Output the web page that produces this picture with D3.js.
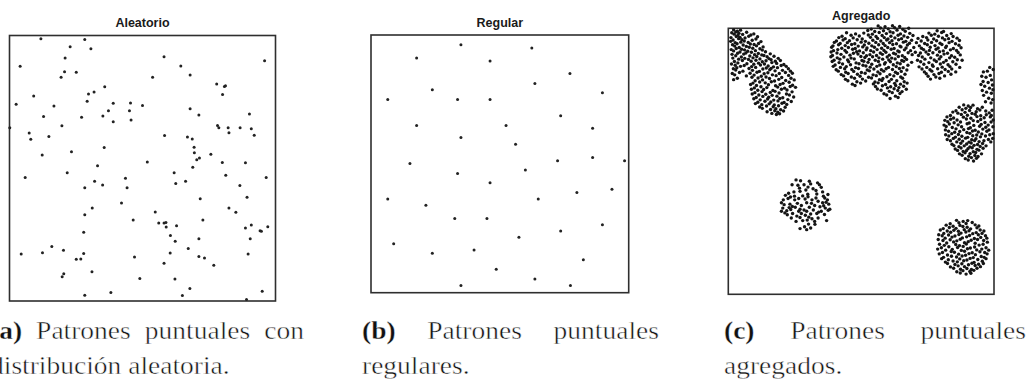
<!DOCTYPE html>
<html>
<head>
<meta charset="utf-8">
<script src="https://cdn.jsdelivr.net/npm/d3@7"></script>
<style>
  html, body { margin: 0; padding: 0; background: #fff; }
  svg { display: block; }
  .cap { font-family: "Liberation Serif", "Times New Roman", Times, serif; }
</style>
</head>
<body>
<svg id="fig" width="1027" height="385"></svg>
<script>
// Panel titles
const titles = ["Aleatorio", "Regular", "Agregado"];

// Observation window shared by the three patterns
const windowX = [0, 100];
const windowY = [0, 100];

// (a) Completely random pattern
const aleatorio = [
  [11.8,98.8],[28.3,98.5],[22.8,95.8],[30.6,95.0],[20.9,91.5],[58.1,92.0],[4.0,88.4],[64.4,88.5],[20.7,86.3],[25.1,86.2],
  [19.4,84.3],[67.9,85.1],[53.8,84.3],[95.9,90.5],[77.9,81.7],[80.8,80.8],[81.2,81.1],[80.1,77.8],[35.8,80.7],[31.8,78.7],
  [29.7,78.0],[9.1,77.2],[29.2,75.2],[2.5,74.1],[16.7,73.4],[39.0,74.5],[45.5,74.6],[50.0,73.6],[37.2,71.7],[45.1,71.7],
  [67.9,72.4],[12.8,69.5],[27.1,69.2],[35.1,69.7],[71.2,70.1],[90.2,70.4],[39.0,67.5],[45.7,68.2],[19.7,66.0],[0.1,65.3],
  [78.2,66.1],[78.7,65.3],[82.2,65.3],[86.7,65.3],[90.9,64.9],[7.4,63.3],[82.5,63.4],[14.8,62.0],[8.0,60.9],[92.0,62.4],
  [58.3,62.3],[66.9,61.8],[68.7,61.0],[35.6,57.8],[69.4,57.9],[23.3,56.2],[69.5,55.8],[12.3,55.0],[75.7,55.3],[71.4,53.9],
  [70.4,53.2],[51.8,52.4],[80.0,52.2],[88.7,52.1],[33.1,50.9],[68.9,50.4],[21.7,48.3],[61.9,48.3],[81.3,47.4],[5.9,46.5],
  [43.6,46.2],[96.5,46.5],[32.0,45.1],[62.5,44.3],[66.2,45.1],[35.0,43.7],[44.2,42.7],[28.3,42.7],[86.6,43.5],[71.7,38.5],
  [89.3,39.1],[42.1,36.9],[31.1,35.0],[82.5,35.0],[85.1,33.4],[54.8,33.5],[28.3,32.5],[46.5,30.5],[72.7,30.5],[56.1,29.4],
  [58.1,29.4],[58.8,29.6],[58.9,27.9],[62.8,28.3],[88.7,27.5],[90.9,28.6],[94.2,26.5],[94.7,26.3],[97.1,28.0],[27.9,25.9],
  [60.5,24.7],[71.2,23.4],[90.5,23.4],[62.3,22.5],[15.9,20.5],[20.3,19.1],[4.4,17.7],[12.4,18.2],[27.9,17.9],[67.2,19.8],
  [60.4,18.1],[89.7,17.7],[25.1,15.7],[26.8,15.8],[47.0,16.6],[71.2,16.8],[73.3,16.2],[58.1,14.2],[76.8,13.5],[31.0,11.0],
  [20.4,10.3],[19.8,9.1],[49.0,8.5],[62.2,8.3],[28.3,2.2],[38.1,3.2],[67.8,4.7],[65.0,2.1],[95.0,3.7],[89.1,0.6]
];

// (b) Regular (inhibition) pattern
const regular = [
  [34.9,96.2],[62.4,95.0],[17.7,91.1],[46.2,89.9],[77.2,85.1],[63.6,81.2],[23.8,78.8],[89.8,77.6],[6.5,75.0],[33.6,75.0],
  [46.2,75.0],[73.6,68.7],[17.7,64.9],[52.4,64.9],[86.0,63.8],[34.9,60.2],[56.1,57.6],[15.1,50.1],[72.4,51.2],[86.0,52.5],
  [98.4,51.2],[33.6,46.3],[59.9,47.6],[46.2,42.7],[79.9,38.9],[93.5,40.1],[6.5,36.4],[64.9,36.4],[21.3,33.9],[32.5,28.8],
  [45.0,28.8],[73.6,23.9],[89.8,26.4],[57.4,21.5],[8.8,19.0],[23.8,15.3],[40.0,16.6],[82.4,12.8],[48.6,9.1],[63.6,5.3],
  [34.9,2.8],[77.4,2.8]
];

// (c) Clustered pattern, one array per cluster
const clusterTopLeft = [
  [2.0,99.4],[3.4,98.9],[4.6,99.3],
  [1.3,98.3],[2.8,98.6],[4.0,98.1],[6.9,98.5],
  [2.2,97.8],[3.6,97.3],[5.4,97.7],[8.5,97.5],[9.6,97.9],
  [1.0,96.5],[3.0,96.9],[4.4,96.6],[6.3,96.4],[7.7,97.0],[11.0,96.8],
  [1.8,95.6],[3.9,96.1],[5.1,95.7],[9.0,95.5],[10.4,96.0],
  [0.9,95.1],[2.6,94.6],[4.7,94.8],[6.0,95.2],[7.5,94.7],[12.3,95.0],
  [1.6,93.8],[3.3,94.2],[5.6,93.7],[8.3,94.1],[9.7,93.9],[11.4,94.3],
  [2.4,93.3],[4.1,92.8],[6.8,93.2],[7.9,92.9],[10.6,93.4],[13.1,93.0],
  [1.1,92.0],[3.0,92.4],[5.0,92.1],[6.1,91.9],[9.2,92.5],[11.9,92.3],[12.8,91.8],
  [2.0,91.5],[4.4,91.1],[7.3,91.4],[8.7,91.0],[10.2,91.6],[14.0,91.2],
  [1.4,90.2],[3.5,90.6],[5.8,90.3],[6.6,90.7],[9.9,90.1],[11.3,90.5],[12.6,90.0],[15.8,90.4],
  [2.8,89.7],[4.9,89.2],[8.1,89.6],[10.7,89.4],[13.4,89.8],[14.6,89.3],[17.2,89.5],
  [1.7,88.8],[3.9,88.4],[6.2,88.7],[7.6,88.3],[9.3,88.9],[11.9,88.5],[15.3,88.6],[16.1,88.2],[18.8,88.7],
  [2.3,87.5],[5.3,87.9],[8.6,87.6],[10.4,88.0],[12.8,87.4],[14.2,87.8],[17.7,87.6],[19.6,87.9],
  [1.2,86.6],[3.6,87.0],[7.0,86.7],[9.6,86.5],[11.4,86.9],[13.6,86.6],[16.4,87.1],[18.2,86.8],[20.9,86.4],
  [2.6,86.1],[4.6,85.7],[6.0,86.0],[8.8,85.6],[12.1,86.2],[15.0,85.8],[17.0,85.5],[19.9,86.0],[21.8,85.7],
  [1.9,84.8],[3.2,85.2],[7.8,84.9],[10.3,85.3],[13.0,84.7],[14.3,85.1],[16.1,84.9],[18.5,85.2],[22.6,84.8],
  [2.8,84.3],[5.5,83.9],[9.1,84.2],[11.7,83.8],[15.6,84.4],[17.6,84.0],[20.4,84.2],[23.4,83.9],
  [1.5,83.0],[4.2,83.4],[8.2,83.1],[10.8,83.5],[13.5,82.9],[14.9,83.3],[19.2,83.0],[21.5,83.4],[24.1,83.1],
  [2.4,82.5],[6.8,82.1],[9.7,82.4],[12.4,82.0],[16.6,82.5],[18.0,82.2],[22.7,82.3],
  [3.4,81.2],[8.9,81.6],[11.2,81.3],[14.2,81.7],[15.5,81.1],[20.1,81.5],[23.6,81.2],
  [2.0,80.7],[10.1,80.3],[12.9,80.6],[17.4,80.2],[19.0,80.8],[21.6,80.4],[24.8,80.6],
  [9.3,79.4],[11.8,79.8],[13.9,79.5],[16.2,79.9],[20.6,79.3],[22.9,79.7],
  [8.4,78.9],[10.6,78.5],[15.1,78.8],[17.8,78.4],[19.5,78.9],[24.2,78.6],
  [9.8,77.6],[12.3,78.0],[14.5,77.7],[18.6,77.9],[21.2,77.5],[23.3,78.1],[25.3,77.8],
  [8.7,77.1],[11.1,76.7],[13.3,77.0],[16.8,76.6],[20.0,77.1],[22.1,76.8],
  [10.0,75.8],[12.7,76.2],[15.8,75.9],[17.6,76.3],[19.1,75.7],[24.0,76.1],
  [9.0,75.3],[11.5,74.9],[14.1,75.2],[16.5,74.8],[21.9,75.3],[23.0,74.9],
  [10.5,74.0],[13.0,74.4],[15.2,74.1],[18.3,74.5],[20.5,73.9],[24.6,74.2],
  [9.6,73.5],[12.0,73.1],[14.8,73.4],[17.1,73.0],[19.4,73.6],[22.4,73.2],
  [11.1,72.2],[13.8,72.6],[16.0,72.3],[18.7,72.7],[21.0,72.1],[23.7,72.5],
  [10.2,71.7],[12.6,71.3],[15.4,71.6],[17.3,71.2],[20.2,71.8],[22.0,71.4],
  [11.8,70.4],[14.4,70.8],[16.9,70.5],[18.9,70.9],[21.4,70.3],
  [12.8,69.9],[15.9,69.5],[17.9,69.8],[19.7,69.4],
  [14.6,68.6],[17.5,69.0],[18.6,68.5],[20.8,68.9],
  [16.4,68.0],[18.1,67.6],[19.3,67.9]
];

const clusterTop = [
  [56.4,100.9],[59.0,100.6],[61.8,101.0],[64.5,100.7],
  [53.8,99.7],[57.3,100.1],[60.2,99.8],[62.6,100.2],[65.7,99.6],[67.9,100.0],
  [52.5,99.2],[55.1,98.8],[58.4,99.1],[60.9,98.7],[63.5,99.3],[66.6,98.9],[78.6,99.1],[81.0,98.8],
  [44.5,98.3],[47.9,97.9],[51.0,98.2],[54.2,97.8],[56.8,98.4],[59.5,98.0],[62.0,98.3],[64.8,97.9],[68.3,98.1],[75.5,98.2],[77.7,97.8],[80.3,98.4],[83.9,98.0],
  [42.8,97.0],[46.2,97.4],[49.3,97.1],[52.7,97.5],[55.6,96.9],[57.9,97.3],[61.2,97.0],[63.9,97.4],[66.1,97.1],[69.5,97.3],[73.2,96.9],[76.4,97.4],[79.1,97.0],[82.2,97.3],[84.6,96.9],
  [41.6,96.5],[44.0,96.1],[47.0,96.4],[50.4,96.0],[53.5,96.6],[56.2,96.2],[58.7,96.5],[60.1,96.0],[62.7,96.4],[65.2,96.1],[67.5,96.6],[71.4,96.2],[74.6,96.5],[77.3,96.0],[80.6,96.4],[82.9,96.1],[86.1,96.3],
  [40.7,95.2],[43.2,95.6],[45.6,95.3],[48.5,95.7],[51.6,95.1],[54.4,95.5],[57.4,95.2],[59.6,95.6],[61.6,95.3],[64.1,95.7],[66.8,95.1],[69.0,95.5],[72.6,95.2],[75.1,95.6],[78.4,95.3],[81.5,95.7],[84.2,95.1],[87.0,95.4],
  [39.9,94.7],[42.1,94.3],[44.8,94.6],[47.6,94.2],[50.0,94.8],[52.9,94.4],[55.5,94.7],[58.3,94.3],[60.7,94.6],[63.3,94.2],[65.9,94.8],[68.2,94.4],[70.8,94.6],[73.9,94.3],[76.5,94.7],[79.7,94.4],[83.1,94.6],[85.5,94.2],
  [39.4,93.4],[41.5,93.8],[44.0,93.5],[46.4,93.9],[48.9,93.3],[51.2,93.7],[54.0,93.4],[56.6,93.8],[59.0,93.5],[61.9,93.9],[64.6,93.3],[67.4,93.7],[71.9,93.4],[74.9,93.8],[77.8,93.5],[80.4,93.9],[82.1,93.3],[86.8,93.6],
  [38.9,92.9],[42.7,92.5],[45.2,92.8],[47.8,92.4],[50.6,93.0],[52.2,92.6],[55.0,92.9],[57.7,92.5],[60.0,92.8],[62.4,92.4],[65.0,93.0],[66.9,92.6],[69.8,92.8],[72.7,92.5],[76.0,92.9],[79.0,92.6],[81.8,92.8],[84.7,92.4],[87.6,92.7],
  [39.6,91.6],[41.2,92.0],[43.9,91.7],[46.8,92.1],[49.4,91.5],[51.9,91.9],[53.6,91.6],[56.0,92.0],[58.6,91.7],[61.3,92.1],[63.8,91.5],[66.3,91.9],[68.6,91.6],[73.5,92.0],[75.7,91.7],[78.2,92.1],[80.9,91.5],[83.6,91.9],[85.9,91.7],
  [38.7,91.1],[40.9,90.7],[44.5,91.0],[47.1,90.6],[48.3,91.2],[50.8,90.8],[54.7,91.1],[57.2,90.7],[59.3,91.0],[62.2,90.6],[64.3,91.2],[67.7,90.8],[70.4,91.0],[72.3,90.7],[74.4,91.1],[77.0,90.8],[79.5,91.2],[82.5,90.6],[86.5,90.9],
  [39.2,89.8],[42.4,90.2],[45.8,89.9],[48.8,90.3],[52.0,89.7],[53.3,90.1],[55.8,89.8],[58.0,90.2],[60.6,89.9],[63.0,90.3],[65.5,89.7],[69.2,90.1],[71.6,89.8],[75.3,90.2],[78.7,89.9],[81.2,90.3],[84.0,89.7],[87.3,90.0],
  [38.6,89.3],[41.0,88.9],[43.5,89.2],[46.2,88.8],[49.9,89.4],[51.4,89.0],[54.3,89.3],[56.7,88.9],[59.8,89.2],[61.5,88.8],[64.0,89.4],[66.4,89.0],[73.0,89.2],[76.2,88.9],[80.0,89.3],[83.3,88.9],[85.2,89.1],
  [39.8,88.0],[42.0,88.4],[44.9,88.1],[47.4,88.5],[50.3,87.9],[53.0,88.3],[55.3,88.0],[58.1,88.4],[60.4,88.1],[62.8,88.5],[65.3,87.9],[67.1,88.3],[71.2,88.0],[74.0,88.4],[77.5,88.1],[79.4,88.5],[82.0,87.9],[86.2,88.2],[88.0,88.0],
  [39.1,87.5],[41.7,87.1],[45.3,87.4],[48.1,87.0],[51.0,87.6],[52.6,87.2],[56.5,87.5],[59.1,87.1],[61.0,87.4],[63.6,87.0],[66.0,87.6],[69.0,87.2],[72.4,87.4],[75.5,87.1],[78.3,87.5],[81.0,87.2],[84.5,87.4],
  [40.2,86.2],[43.0,86.6],[46.0,86.3],[49.2,86.7],[50.7,86.1],[54.0,86.5],[57.0,86.2],[58.8,86.6],[62.1,86.3],[64.7,86.7],[67.6,86.1],[73.6,86.5],[76.8,86.2],[79.8,86.6],[82.7,86.3],[85.7,86.5],
  [39.5,85.7],[42.2,85.3],[44.4,85.6],[47.9,85.2],[51.8,85.8],[53.4,85.4],[55.9,85.7],[60.3,85.3],[63.2,85.6],[65.8,85.2],[71.8,85.5],[74.7,85.3],[77.1,85.7],[80.5,85.4],[83.4,85.6],[87.1,85.3],
  [40.6,84.4],[43.8,84.8],[46.5,84.5],[49.0,84.9],[52.3,84.3],[54.8,84.7],[57.6,84.4],[59.4,84.8],[61.8,84.5],[64.4,84.9],[67.2,84.3],[72.9,84.7],[75.9,84.4],[78.8,84.8],[81.6,84.5],[84.1,84.7],
  [41.4,83.9],[44.2,83.5],[47.2,83.8],[50.1,83.4],[53.1,84.0],[56.3,83.6],[58.5,83.9],[62.9,83.5],[65.1,83.8],[73.8,83.6],[76.6,83.9],[80.2,83.5],[82.8,83.8],[85.6,83.6],
  [42.5,82.6],[45.1,83.0],[48.6,82.7],[51.5,83.1],[54.5,82.5],[57.1,82.9],[60.8,82.6],[63.7,83.0],[66.5,82.7],[74.5,82.9],[77.4,82.6],[79.3,83.0],[83.8,82.7],
  [43.4,82.1],[46.3,81.7],[49.6,82.0],[52.8,81.6],[55.7,82.2],[59.7,81.8],[62.3,82.1],[64.9,81.7],[75.2,82.0],[78.1,81.7],[81.4,82.1],
  [44.1,80.8],[47.5,81.2],[50.5,80.9],[53.9,81.3],[56.9,80.7],[58.2,81.1],[61.4,80.8],[65.6,81.2],[76.1,80.9],[79.6,81.2],
  [45.0,80.3],[48.4,79.9],[51.7,80.2],[55.2,79.8],[57.8,80.4],[60.5,80.0],[63.4,80.3],[66.2,79.9],
  [46.7,79.0],[49.8,79.4],[54.6,79.1],[56.4,79.5],[59.2,78.9],[62.6,79.3],[64.8,79.0],[67.3,79.4],
  [47.7,78.5],[55.4,78.1],[58.0,78.4],[61.1,78.0],[63.0,78.5],[66.0,78.2],
  [56.1,77.2],[59.9,77.6],[62.4,77.3],[64.2,77.7],[67.0,77.1],
  [57.5,76.7],[60.6,76.3],[63.8,76.6],[65.4,76.2],
  [58.6,75.4],[61.7,75.8],[64.6,75.5],
  [59.6,74.9],[62.9,74.5],
  [60.9,73.6],[63.9,74.0]
];

const clusterRightEdge = [
  [96.0,83.6],[97.5,83.9],[95.4,82.0],[97.0,81.6],[98.6,82.3],[95.9,80.0],[97.8,79.6],[99.1,80.6],[96.5,78.2],[98.3,77.5],
  [99.4,78.7],[95.6,76.6],[97.2,76.0],[99.0,75.6],[96.1,74.8],[98.0,73.7],[99.5,73.2],[96.8,72.4],[98.9,71.9],[99.6,76.9],
  [95.1,78.9],[99.7,84.5],[98.4,85.3]
];

const clusterRight = [
  [88.6,71.2],[90.3,70.8],[92.1,71.1],
  [86.9,70.3],[89.4,69.9],[91.2,70.2],[93.8,69.8],[95.6,70.3],
  [85.7,69.0],[88.0,69.4],[90.8,69.1],[94.7,69.3],[96.9,68.9],[99.3,69.2],
  [84.5,68.5],[86.4,68.1],[89.1,68.4],[91.7,68.0],[93.3,68.6],[98.2,68.2],
  [83.6,67.2],[87.7,67.6],[90.0,67.3],[92.9,67.7],[95.0,67.1],[97.1,67.5],[99.0,67.2],
  [82.3,66.7],[84.8,66.3],[88.5,66.6],[91.3,66.2],[93.6,66.8],[96.3,66.4],[98.6,66.7],
  [81.5,65.4],[83.7,65.8],[86.1,65.5],[89.6,65.9],[92.2,65.3],[95.0,65.7],[99.7,65.5],
  [82.6,64.9],[85.0,64.5],[87.4,64.8],[90.7,64.4],[93.9,65.0],[96.6,64.6],[98.9,64.8],
  [81.2,63.6],[83.2,64.0],[86.5,63.7],[89.9,64.1],[92.4,63.5],[95.2,63.9],[97.8,63.6],
  [82.0,63.1],[84.3,62.7],[87.8,63.0],[91.1,62.6],[94.6,63.2],[96.9,62.8],[99.6,63.0],
  [81.7,61.8],[85.7,62.2],[88.6,61.9],[90.4,62.3],[92.9,61.7],[95.8,62.1],[98.1,61.8],
  [82.9,61.3],[85.2,60.9],[87.1,61.2],[89.8,60.8],[91.9,61.4],[94.1,61.0],[97.3,61.3],
  [81.8,60.0],[84.1,60.4],[86.6,60.1],[90.9,60.5],[93.5,59.9],[95.4,60.3],[98.4,60.0],[99.7,60.4],
  [83.0,59.5],[85.5,59.1],[87.9,59.4],[90.1,59.0],[92.0,59.6],[94.9,59.2],[96.8,59.5],
  [82.4,58.2],[84.7,58.6],[86.9,58.3],[89.3,58.7],[91.6,58.1],[93.2,58.5],[97.9,58.2],[99.5,58.6],
  [83.6,57.7],[86.0,57.3],[88.2,57.6],[90.6,57.2],[92.7,57.8],[94.4,57.4],[96.2,57.7],[98.8,57.3],
  [84.2,56.4],[87.5,56.8],[89.7,56.5],[91.4,56.9],[93.8,56.3],[95.7,56.7],
  [84.9,55.9],[86.8,55.5],[88.8,55.8],[90.9,55.4],[92.5,56.0],[94.8,55.6],[97.0,55.8],
  [85.4,54.6],[87.6,55.0],[90.2,54.7],[91.8,55.1],[93.6,54.5],[95.9,54.9],
  [86.3,54.1],[88.4,53.7],[89.6,54.0],[92.2,53.6],[94.3,54.2],
  [87.0,52.8],[89.1,53.2],[91.0,52.9],[93.1,53.3],[95.3,52.8],
  [88.0,52.3],[90.5,51.9],[92.8,52.2],[94.0,51.8],
  [89.2,51.0],[91.5,51.4],[93.4,51.1],
  [90.3,50.5],[92.3,50.1]
];

const clusterCentre = [
  [25.5,43.0],[27.2,42.7],[30.5,42.5],[24.0,41.2],[26.2,41.0],[28.5,41.2],[31.0,41.5],[34.3,41.2],[35.0,40.2],[31.9,39.7],
  [29.2,39.2],[27.0,38.7],[24.7,38.5],[22.7,38.0],[21.5,37.2],[20.7,35.5],[20.0,34.4],[20.5,32.4],[20.0,31.2],[22.0,31.4],
  [23.2,33.9],[25.0,35.5],[26.5,36.0],[28.0,37.0],[30.0,36.7],[33.3,37.7],[35.5,38.5],[36.3,36.2],[37.3,35.5],[37.8,33.9],
  [35.5,34.4],[33.8,35.0],[31.5,35.5],[29.5,34.4],[27.5,33.4],[25.2,32.7],[23.5,31.9],[22.2,29.9],[24.2,30.4],[26.5,31.2],
  [28.5,31.7],[30.5,32.7],[32.5,33.4],[34.5,32.9],[36.5,32.4],[35.0,31.2],[33.3,30.4],[31.0,30.2],[29.0,29.7],[27.0,28.9],
  [28.0,27.7],[29.7,27.9],[31.5,28.4],[33.8,28.7],[30.2,26.4],[28.7,25.4],[27.0,24.7],[31.0,24.9],[32.5,27.4],[37.0,27.7],
  [25.5,27.4],[23.7,28.7],[21.0,33.7],[22.5,36.0],[37.5,37.5],[33.0,36.2],[26.0,34.2],[32.0,31.7],[29.5,31.2],[27.5,30.4],
  [26.8,39.9],[30.0,40.3],[33.0,39.0],[23.4,36.6],[28.9,35.8],[35.9,33.3],[24.1,33.0],[31.3,34.2],[27.0,32.0],[34.0,30.9],
  [30.3,29.0],[25.8,29.4],[36.2,30.0],[32.6,26.3],[29.5,24.3],[21.3,30.6],[37.6,31.6],[24.9,36.9],[36.8,34.6],[38.2,32.0],
  [35.8,36.9],[22.9,32.6],[33.6,41.9],[29.9,37.6]
];

const clusterBottomRight = [
  [85.9,27.8],[88.4,27.4],[90.1,27.7],
  [83.5,26.5],[86.8,26.9],[89.5,26.6],[91.8,27.0],
  [82.0,26.0],[84.6,25.6],[87.2,25.9],[88.3,25.5],[92.9,26.1],[94.3,25.7],
  [80.9,24.7],[83.2,25.1],[85.7,24.8],[89.9,25.2],[91.2,24.6],[93.6,25.0],
  [79.8,24.2],[82.4,23.8],[84.9,24.1],[86.6,23.7],[88.8,24.3],[90.6,23.9],[94.8,24.2],[96.2,23.8],
  [81.1,22.9],[83.7,23.3],[87.6,23.0],[89.4,23.4],[92.0,22.8],[93.3,23.2],[95.5,22.9],
  [79.2,22.4],[80.5,22.0],[82.9,22.3],[85.3,21.9],[86.8,22.5],[90.8,22.1],[94.1,22.4],[96.8,22.0],
  [81.6,21.1],[84.2,21.5],[88.1,21.2],[89.7,21.6],[92.6,21.0],[95.0,21.4],[97.3,21.1],
  [79.0,20.6],[80.8,20.2],[83.5,20.5],[86.0,20.1],[87.3,20.7],[91.4,20.3],[93.8,20.6],[96.1,20.2],
  [82.2,19.3],[84.8,19.7],[88.9,19.4],[90.3,19.8],[92.9,19.2],[97.5,19.6],
  [79.5,18.8],[81.3,18.4],[85.6,18.7],[87.0,18.3],[89.6,18.9],[94.4,18.5],[95.9,18.8],
  [80.2,17.5],[83.0,17.9],[86.3,17.6],[88.4,18.0],[91.1,17.4],[92.7,17.8],[97.0,17.5],
  [78.8,17.0],[81.8,16.6],[84.3,16.9],[87.7,16.5],[90.0,17.1],[93.5,16.7],[95.4,17.0],[98.0,16.6],
  [80.6,15.7],[83.9,16.1],[85.1,15.8],[88.9,16.2],[91.8,15.6],[94.7,16.0],[96.5,15.7],
  [79.4,15.2],[82.5,14.8],[86.7,15.1],[89.3,14.7],[90.6,15.3],[93.0,14.9],[97.4,15.2],
  [81.0,13.9],[84.0,14.3],[85.9,14.0],[88.0,14.4],[92.2,13.8],[95.2,14.2],[96.3,13.9],
  [80.3,13.4],[82.8,13.0],[87.1,13.3],[89.8,12.9],[91.0,13.5],[93.9,13.1],[97.0,13.4],
  [81.7,12.1],[84.6,12.5],[86.2,12.2],[88.6,12.6],[92.5,12.0],[95.6,12.4],
  [82.5,11.6],[85.3,11.2],[87.9,11.5],[90.4,11.1],[91.7,11.7],[94.2,11.3],[96.0,11.6],
  [83.6,10.3],[86.5,10.7],[88.9,10.4],[92.9,10.8],[94.9,10.4],
  [84.8,9.8],[87.4,9.4],[89.8,9.7],[91.5,9.3],[93.6,9.8],
  [86.0,8.5],[88.3,8.9],[90.9,8.6],[92.4,9.0],
  [87.3,8.0],[89.5,7.6],[91.3,7.9]
];

const agregado = [clusterTopLeft, clusterTop, clusterRightEdge, clusterRight, clusterCentre, clusterBottomRight].flat();

// Sub-figure captions
const captionLabels = ["(a)", "(b)", "(c)"];
const captionLine1 = ["Patrones puntuales con", "Patrones puntuales", "Patrones puntuales"];
const captionLine2 = ["distribución aleatoria.", "regulares.", "agregados."];

// ---------------------------------------------------------------------------
const svg = d3.select("#fig");

const panels = [
  { title: titles[0], points: aleatorio, box: { x: 9.5,   y: 35.5, w: 266,   h: 265.5 }, r: 1.5,  fill: "#222" },
  { title: titles[1], points: regular,   box: { x: 371,   y: 35,   w: 257.7, h: 257.7 }, r: 1.5,  fill: "#222" },
  { title: titles[2], points: agregado,  box: { x: 728.3, y: 28.3, w: 265.7, h: 266   }, r: 1.7,  fill: "#151515" }
];

panels.forEach(p => {
  const x = d3.scaleLinear().domain(windowX).range([p.box.x, p.box.x + p.box.w]);
  const y = d3.scaleLinear().domain(windowY).range([p.box.y + p.box.h, p.box.y]);
  const g = svg.append("g");

  g.append("rect")
    .attr("x", x(windowX[0])).attr("y", y(windowY[1]))
    .attr("width", x(windowX[1]) - x(windowX[0]))
    .attr("height", y(windowY[0]) - y(windowY[1]))
    .attr("fill", "none").attr("stroke", "#2e2e2e").attr("stroke-width", 1.6);

  g.append("g").selectAll("circle")
    .data(p.points)
    .join("circle")
    .attr("cx", d => x(d[0]))
    .attr("cy", d => y(d[1]))
    .attr("r", p.r)
    .attr("fill", p.fill);

  g.append("text")
    .attr("x", (x(windowX[0]) + x(windowX[1])) / 2)
    .attr("y", y(windowY[1]) - 8.5)
    .attr("text-anchor", "middle")
    .attr("font-family", "'Liberation Sans', Arial, sans-serif")
    .attr("font-weight", "bold")
    .attr("font-size", 12.5)
    .attr("fill", "#1a1a1a")
    .text(p.title);
});

// Captions: first line justified across the column, second line ragged
const SX = 1.1;
const base1 = 339, base2 = 374;
const columns = [{ x0: -10, x1: 304 }, { x0: 362, x1: 659 }, { x0: 724, x1: 1026 }];

function word(text, bold) {
  // a thin white outline keeps the serif strokes light
  return svg.append("text")
    .attr("class", "cap")
    .attr("font-size", 25)
    .attr("font-weight", bold ? "bold" : "normal")
    .attr("fill", "#111")
    .attr("stroke", "#fff")
    .attr("stroke-width", bold ? 0.3 : 0.45)
    .text(text);
}

columns.forEach((c, i) => {
  const words = [{ t: captionLabels[i], b: true }]
    .concat(captionLine1[i].split(" ").map(t => ({ t, b: false })));
  const nodes = words.map(w => {
    const el = word(w.t, w.b);
    return { el, w: el.node().getComputedTextLength() * SX };
  });
  const gap = (c.x1 - c.x0 - d3.sum(nodes, n => n.w)) / (nodes.length - 1);
  let cx = c.x0;
  nodes.forEach(n => {
    n.el.attr("transform", `translate(${cx},${base1}) scale(${SX},1)`);
    cx += n.w + gap;
  });
  word(captionLine2[i], false)
    .attr("transform", `translate(${c.x0},${base2}) scale(${SX},1)`);
});
</script>
</body>
</html>
